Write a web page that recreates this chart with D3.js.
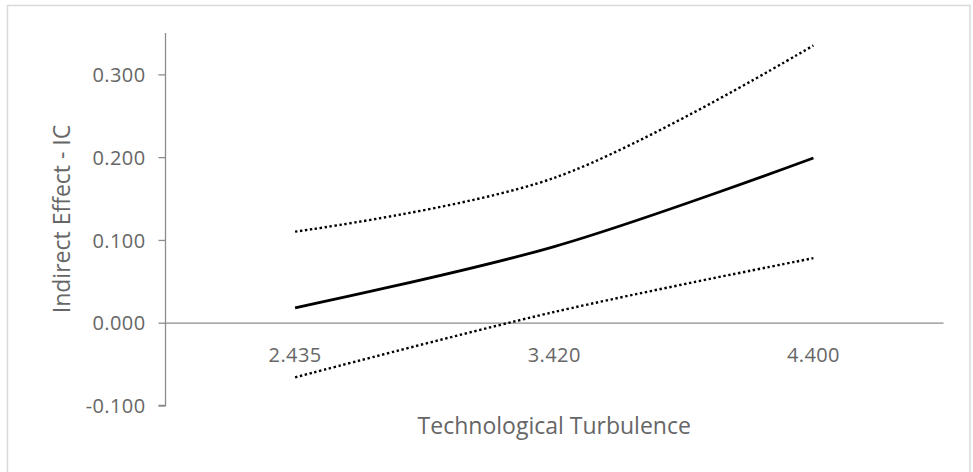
<!DOCTYPE html>
<html>
<head>
<meta charset="utf-8">
<script src="https://cdn.jsdelivr.net/npm/d3@7"></script>
<style>
  body { margin: 0; background: #fff; }
  text { font-family: "Open Sans", sans-serif; fill: #666; }
</style>
</head>
<body>
<script>
// Set SVG width and height
var width = 973,
    height = 472;

// data
const categories = ["2.435", "3.420", "4.400"];
const effect = [0.018, 0.092, 0.199];
const upperCI = [0.110, 0.175, 0.335];
const lowerCI = [-0.066, 0.013, 0.078];
const yTicks = [-0.1, 0, 0.1, 0.2, 0.3];

// plot area
const plotLeft = 165.5, plotRight = 943, plotTop = 33, plotBottom = 405.5;

var svg = d3.select('body').append('svg')
    .attr('width', width)
    .attr('height', height);

// chart border
svg.append('rect')
    .attr('x', 7.5)
    .attr('y', 5.5)
    .attr('width', 962.5)
    .attr('height', 480)
    .attr('fill', 'none')
    .attr('stroke', '#d9d9d9')
    .attr('stroke-width', 1.5);

var x = d3.scaleBand()
    .domain(categories)
    .range([plotLeft, plotRight]);

var y = d3.scaleLinear()
    .domain([-0.1, 0.35])
    .range([plotBottom, plotTop]);

function px(d, i) { return x(categories[i]) + x.bandwidth() / 2; }

// excel style: plain hyphen for negatives
var fmt = function(d) { return d3.format('.3f')(d).replace('\u2212', '-'); };

// y axis
var yAxis = svg.append('g')
    .attr('transform', 'translate(' + plotLeft + ',0)')
    .call(d3.axisLeft(y).tickValues(yTicks).tickSize(7).tickPadding(13)
        .tickFormat(fmt));
yAxis.select('.domain').attr('d', 'M0,' + plotTop + 'V' + plotBottom + 'H-7');
yAxis.selectAll('line, path').attr('stroke', '#8c8c8c').attr('stroke-width', 1.3);
yAxis.selectAll('text')
    .attr('font-size', 20)
    .attr('letter-spacing', 0.4)
    .attr('fill', '#666')
    .attr('dy', '0.36em')
    .style('font-family', '"Open Sans", sans-serif');

// x axis crossing at zero
var xAxis = svg.append('g')
    .attr('transform', 'translate(0,' + y(0) + ')')
    .call(d3.axisBottom(x).tickSize(0).tickPadding(25));
xAxis.select('.domain').attr('stroke', '#8c8c8c').attr('stroke-width', 1.3);
xAxis.selectAll('text')
    .attr('font-size', 20)
    .attr('letter-spacing', 0.4)
    .attr('fill', '#666')
    .style('font-family', '"Open Sans", sans-serif');

// lines
var line = d3.line()
    .x(px)
    .y(function(d) { return y(d); })
    .curve(d3.curveCatmullRom.alpha(0.5));

svg.append('path')
    .datum(upperCI)
    .attr('d', line)
    .attr('fill', 'none')
    .attr('stroke', '#000')
    .attr('stroke-width', 2.4)
    .attr('stroke-dasharray', '2.4,2.6');

svg.append('path')
    .datum(lowerCI)
    .attr('d', line)
    .attr('fill', 'none')
    .attr('stroke', '#000')
    .attr('stroke-width', 2.4)
    .attr('stroke-dasharray', '2.4,2.6');

svg.append('path')
    .datum(effect)
    .attr('d', line)
    .attr('fill', 'none')
    .attr('stroke', '#000')
    .attr('stroke-width', 2.8);

// axis titles
svg.append('text')
    .attr('x', (plotLeft + plotRight) / 2)
    .attr('y', 434)
    .attr('text-anchor', 'middle')
    .attr('font-size', 23)
    .text('Technological Turbulence');

svg.append('text')
    .attr('transform', 'translate(70,219) rotate(-90)')
    .attr('text-anchor', 'middle')
    .attr('font-size', 23)
    .text('Indirect Effect - IC');
</script>
</body>
</html>
